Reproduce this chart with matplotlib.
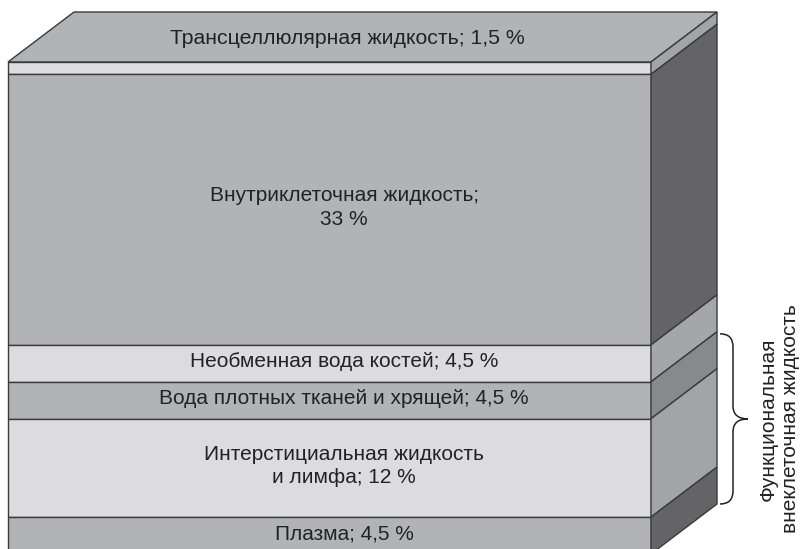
import numpy as np
import matplotlib.pyplot as plt
from matplotlib.patches import Polygon, PathPatch
from matplotlib.path import Path

# water compartments, top to bottom (percent of body weight)
labels = ['Трансцеллюлярная жидкость; 1,5 %',
          'Внутриклеточная жидкость;\n33 %',
          'Необменная вода костей; 4,5 %',
          'Вода плотных тканей и хрящей; 4,5 %',
          'Интерстициальная жидкость\nи лимфа; 12 %',
          'Плазма; 4,5 %']
values = [1.5, 33, 4.5, 4.5, 12, 4.5]
front_colors = ['#dcdcde', '#b2b3b7', '#dcdcde', '#b2b3b7', '#dcdcde', '#b2b3b7']
side_colors = ['#a3a4a8', '#646466', '#a5a6aa', '#88898d', '#a3a4a8', '#646466']
brace_label = 'Функциональная\nвнеклеточная жидкость'

W, H = 802, 549
x0, x1 = 8, 651          # front face left/right
dx, dy = 66, -50         # depth offset
y_top = 62
px_per_pct = 8.2
edge = '#3a3a3c'

fig = plt.figure(figsize=(W / 100, H / 100), dpi=100)
ax = fig.add_axes([0, 0, 1, 1])
ax.set_xlim(0, W)
ax.set_ylim(H, 0)
ax.axis('off')

bounds = y_top + np.concatenate([[0], np.cumsum(values)]) * px_per_pct

# top face
top = Polygon([(x0, y_top), (x0 + dx, y_top + dy), (x1 + dx, y_top + dy), (x1, y_top)],
              closed=True, fc='#b2b3b7', ec=edge, lw=1.0)
ax.add_patch(top)

for i in range(len(values)):
    ya, yb = bounds[i], bounds[i + 1]
    ax.add_patch(Polygon([(x0, ya), (x1, ya), (x1, yb), (x0, yb)], closed=True,
                         fc=front_colors[i], ec=edge, lw=1.0))
    ax.add_patch(Polygon([(x1, ya), (x1 + dx, ya + dy), (x1 + dx, yb + dy), (x1, yb)],
                         closed=True, fc=side_colors[i], ec=edge, lw=1.0))

# labels
font = ['Liberation Sans', 'DejaVu Sans']
ax.text(347, (y_top + y_top + dy) / 2 + 1, labels[0], ha='center', va='center',
        fontsize=15.3, color='#222222', family=font)
for i in range(1, len(values)):
    yc = (bounds[i] + bounds[i + 1]) / 2 - 2
    if i == len(values) - 1:
        yc = min(yc, H - 15)
    ax.text(344, yc, labels[i], ha='center', va='center', fontsize=15,
            color='#222222', family=font, linespacing=1.3)

# brace over dense tissue, interstitial and plasma on the back edge
b0 = bounds[3] + dy + 2
b1 = bounds[6] + dy
bm = (b0 + b1) / 2
bx, bw = x1 + dx + 3, 13
r = 13
verts = [(bx, b0), (bx + bw, b0), (bx + bw, b0 + r),
         (bx + bw, bm - r), (bx + bw, bm), (bx + bw + 15, bm),
         (bx + bw, bm), (bx + bw, bm + r),
         (bx + bw, b1 - r), (bx + bw, b1), (bx, b1)]
codes = [Path.MOVETO, Path.CURVE3, Path.CURVE3,
         Path.LINETO, Path.CURVE3, Path.CURVE3,
         Path.CURVE3, Path.CURVE3,
         Path.LINETO, Path.CURVE3, Path.CURVE3]
ax.add_patch(PathPatch(Path(verts, codes), fc='none', ec='#222222', lw=1.1))

ax.text(779, bm, brace_label, rotation=90, ha='center', va='center', fontsize=15,
        color='#222222', family=font, linespacing=1.2)

fig.savefig('out.png', dpi=100)
